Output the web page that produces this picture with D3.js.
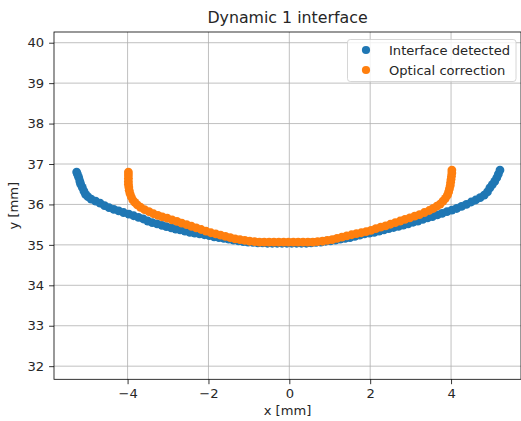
<!DOCTYPE html>
<html>
<head>
<meta charset="utf-8">
<script src="https://cdn.jsdelivr.net/npm/d3@7"></script>
<style>
  html, body { margin: 0; padding: 0; background: #fff; }
  svg { display: block; }
  text { font-family: "DejaVu Sans", sans-serif; fill: #262626; }
</style>
</head>
<body>
<svg id="chart" width="521" height="421"></svg>
<script>
// Detected interface points (x [mm], y [mm])
const detectedX = [
  -5.26, -5.24, -5.21, -5.18, -5.16, -5.12, -5.08, -5.04, -4.98, -4.90,
  -4.79, -4.68, -4.57, -4.46, -4.34, -4.22, -4.10, -3.97, -3.85, -3.73,
  -3.61, -3.50, -3.39, -3.27, -3.15, -3.04, -2.92, -2.81, -2.70, -2.58,
  -2.46, -2.34, -2.22, -2.10, -1.98, -1.86, -1.74, -1.62, -1.50, -1.38,
  -1.26, -1.14, -1.02, -0.90, -0.78, -0.66, -0.54, -0.42, -0.30, -0.18,
  -0.06, 0.06, 0.18, 0.30, 0.42, 0.54, 0.66, 0.78, 0.90, 1.02,
  1.14, 1.26, 1.38, 1.50, 1.62, 1.74, 1.86, 1.98, 2.10, 2.22,
  2.34, 2.46, 2.58, 2.70, 2.82, 2.94, 3.06, 3.18, 3.30, 3.42,
  3.54, 3.66, 3.78, 3.90, 4.02, 4.14, 4.26, 4.38, 4.50, 4.61,
  4.72, 4.82, 4.90, 4.96, 5.02, 5.08, 5.13, 5.17, 5.21
];
const detectedY = [
  36.80, 36.75, 36.67, 36.57, 36.50, 36.42, 36.33, 36.25, 36.19, 36.13,
  36.08, 36.03, 35.97, 35.92, 35.88, 35.84, 35.80, 35.76, 35.72, 35.68,
  35.64, 35.59, 35.55, 35.52, 35.48, 35.45, 35.42, 35.39, 35.37, 35.34,
  35.31, 35.29, 35.27, 35.25, 35.23, 35.20, 35.18, 35.16, 35.14, 35.12,
  35.10, 35.08, 35.07, 35.06, 35.05, 35.05, 35.04, 35.04, 35.04, 35.04,
  35.04, 35.04, 35.04, 35.04, 35.04, 35.05, 35.06, 35.07, 35.09, 35.10,
  35.12, 35.14, 35.16, 35.18, 35.21, 35.24, 35.27, 35.29, 35.31, 35.34,
  35.37, 35.40, 35.43, 35.46, 35.49, 35.52, 35.56, 35.59, 35.63, 35.67,
  35.70, 35.74, 35.78, 35.82, 35.86, 35.90, 35.95, 36.00, 36.06, 36.11,
  36.17, 36.23, 36.31, 36.41, 36.49, 36.57, 36.66, 36.75, 36.85
];

// Optically corrected points (x [mm], y [mm])
const correctedX = [
  -3.98, -3.98, -3.98, -3.98, -3.98, -3.97, -3.96, -3.94, -3.91, -3.87,
  -3.82, -3.76, -3.68, -3.58, -3.47, -3.36, -3.25, -3.14, -3.02, -2.90,
  -2.78, -2.66, -2.54, -2.42, -2.30, -2.18, -2.06, -1.94, -1.82, -1.70,
  -1.58, -1.46, -1.34, -1.22, -1.10, -0.98, -0.86, -0.74, -0.62, -0.50,
  -0.38, -0.26, -0.14, -0.02, 0.10, 0.22, 0.34, 0.46, 0.58, 0.70,
  0.82, 0.94, 1.06, 1.18, 1.30, 1.42, 1.54, 1.66, 1.78, 1.90,
  2.02, 2.14, 2.26, 2.38, 2.50, 2.62, 2.74, 2.86, 2.98, 3.10,
  3.22, 3.34, 3.46, 3.56, 3.65, 3.73, 3.80, 3.86, 3.91, 3.94,
  3.96, 3.98, 3.99, 4.00, 4.01, 4.02, 4.02
];
const correctedY = [
  36.80, 36.73, 36.65, 36.57, 36.50, 36.43, 36.35, 36.27, 36.19, 36.11,
  36.05, 35.99, 35.93, 35.87, 35.82, 35.77, 35.73, 35.69, 35.66, 35.62,
  35.58, 35.54, 35.50, 35.46, 35.42, 35.38, 35.34, 35.30, 35.27, 35.24,
  35.21, 35.18, 35.15, 35.13, 35.11, 35.09, 35.08, 35.07, 35.07, 35.07,
  35.07, 35.07, 35.07, 35.07, 35.07, 35.07, 35.07, 35.07, 35.07, 35.08,
  35.09, 35.11, 35.13, 35.16, 35.19, 35.22, 35.25, 35.28, 35.30, 35.33,
  35.36, 35.40, 35.44, 35.47, 35.51, 35.55, 35.59, 35.63, 35.67, 35.71,
  35.75, 35.80, 35.85, 35.90, 35.96, 36.01, 36.08, 36.15, 36.23, 36.31,
  36.39, 36.47, 36.55, 36.62, 36.70, 36.78, 36.85
];

const xTicks = [-4, -2, 0, 2, 4];
const yTicks = [32, 33, 34, 35, 36, 37, 38, 39, 40];
const seriesNames = ["Interface detected", "Optical correction"];
const seriesColors = ["#1f77b4", "#ff7f0e"];

const plot = { left: 54, right: 521, top: 32, bottom: 379.3 };
const svg = d3.select("#chart");

// equal aspect: same pixels per mm on both axes
const x = d3.scaleLinear().domain([-5.82, 5.73]).range([plot.left, plot.right]);
const k = (plot.right - plot.left) / (5.73 + 5.82);
const yMid = 35.97, yHalf = (plot.bottom - plot.top) / (2 * k);
const y = d3.scaleLinear().domain([yMid - yHalf, yMid + yHalf]).range([plot.bottom, plot.top]);

// grid
const grid = svg.append("g").attr("stroke", "#b0b0b0").attr("stroke-width", 0.8);
grid.selectAll(".gx").data(xTicks).join("line")
  .attr("x1", d => x(d)).attr("x2", d => x(d))
  .attr("y1", plot.top).attr("y2", plot.bottom);
grid.selectAll(".gy").data(yTicks).join("line")
  .attr("x1", plot.left).attr("x2", plot.right)
  .attr("y1", d => y(d)).attr("y2", d => y(d));

// scatter series
const series = [
  { xs: detectedX, ys: detectedY },
  { xs: correctedX, ys: correctedY }
];
series.forEach((s, i) => {
  svg.append("g").attr("fill", seriesColors[i])
    .selectAll("circle").data(d3.range(s.xs.length)).join("circle")
    .attr("cx", j => x(s.xs[j]))
    .attr("cy", j => y(s.ys[j]))
    .attr("r", 4.4);
});

// axes
const xAxis = d3.axisBottom(x).tickValues(xTicks).tickSize(4.9).tickPadding(4.9)
  .tickFormat(d => d < 0 ? "\u2212" + Math.abs(d) : String(d));
const yAxis = d3.axisLeft(y).tickValues(yTicks).tickSize(4.9).tickPadding(4.9);

const gx = svg.append("g").attr("transform", `translate(0,${plot.bottom})`).call(xAxis);
const gy = svg.append("g").attr("transform", `translate(${plot.left},0)`).call(yAxis);
[gx, gy].forEach(g => {
  g.select(".domain").remove();
  g.selectAll(".tick line").attr("stroke", "#000").attr("stroke-width", 0.8);
  g.selectAll(".tick text").attr("font-size", 13.1).attr("font-family", "DejaVu Sans").attr("fill", "#262626");
});

// spines
svg.append("rect")
  .attr("x", plot.left).attr("y", plot.top)
  .attr("width", plot.right - plot.left).attr("height", plot.bottom - plot.top)
  .attr("fill", "none").attr("stroke", "#000").attr("stroke-width", 0.8);

// title and axis labels
const cx = (plot.left + plot.right) / 2;
svg.append("text").attr("x", cx).attr("y", 23).attr("text-anchor", "middle")
  .attr("font-size", 15.8).text("Dynamic 1 interface");
svg.append("text").attr("x", cx).attr("y", 415).attr("text-anchor", "middle")
  .attr("font-size", 13.1).text("x [mm]");
svg.append("text")
  .attr("transform", `translate(18,${(plot.top + plot.bottom) / 2}) rotate(-90)`)
  .attr("text-anchor", "middle").attr("font-size", 13.1).text("y [mm]");

// legend
const legend = svg.append("g");
legend.append("rect")
  .attr("x", 347.5).attr("y", 39.5).attr("width", 168.5).attr("height", 42)
  .attr("rx", 2.8).attr("fill", "#fff").attr("fill-opacity", 0.8)
  .attr("stroke", "#cccccc").attr("stroke-width", 0.8);
seriesNames.forEach((name, i) => {
  const cy = 50 + i * 20;
  legend.append("circle").attr("cx", 366).attr("cy", cy).attr("r", 4.1).attr("fill", seriesColors[i]);
  legend.append("text").attr("x", 389).attr("y", cy).attr("dy", "0.36em")
    .attr("font-size", 13.1).text(name);
});
</script>
</body>
</html>
